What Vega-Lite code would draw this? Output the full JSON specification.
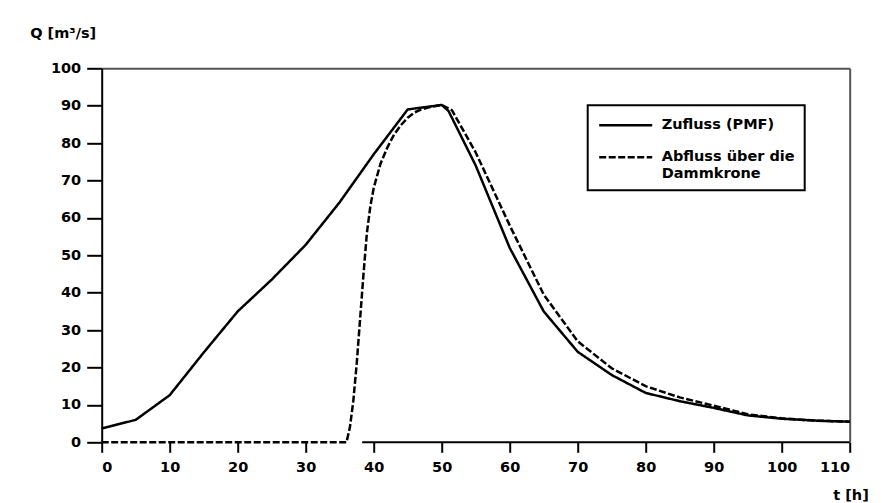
{
  "$schema": "https://vega.github.io/schema/vega-lite/v6.json",
  "width": 748,
  "height": 374,
  "autosize": "none",
  "padding": {"left": 101.7, "top": 68.3, "right": 32.3, "bottom": 60.7},
  "background": "white",
  "config": {
    "view": {"stroke": null},
    "font": "DejaVu Sans",
    "legend": {"strokeWidth": 2},
    "axis": {"labelFont": "DejaVu Sans", "labelFontWeight": "bold", "labelFontSize": 14.5, "labelColor": "black", "titleFont": "DejaVu Sans", "titleFontWeight": "bold", "titleFontSize": 14.5, "titleColor": "black", "grid": false}
  },
  "datasets": {
    "curves": [
      {"t": 0, "Q": 3.7, "s": "Zufluss (PMF)"},
      {"t": 5, "Q": 6.0, "s": "Zufluss (PMF)"},
      {"t": 10, "Q": 12.6, "s": "Zufluss (PMF)"},
      {"t": 15, "Q": 24, "s": "Zufluss (PMF)"},
      {"t": 20, "Q": 35, "s": "Zufluss (PMF)"},
      {"t": 25, "Q": 43.5, "s": "Zufluss (PMF)"},
      {"t": 30, "Q": 52.8, "s": "Zufluss (PMF)"},
      {"t": 35, "Q": 64.2, "s": "Zufluss (PMF)"},
      {"t": 40, "Q": 77, "s": "Zufluss (PMF)"},
      {"t": 45, "Q": 89, "s": "Zufluss (PMF)"},
      {"t": 50, "Q": 90.2, "s": "Zufluss (PMF)"},
      {"t": 51, "Q": 88.6, "s": "Zufluss (PMF)"},
      {"t": 55, "Q": 74, "s": "Zufluss (PMF)"},
      {"t": 60, "Q": 52, "s": "Zufluss (PMF)"},
      {"t": 65, "Q": 35, "s": "Zufluss (PMF)"},
      {"t": 70, "Q": 24.2, "s": "Zufluss (PMF)"},
      {"t": 75, "Q": 18, "s": "Zufluss (PMF)"},
      {"t": 80, "Q": 13.2, "s": "Zufluss (PMF)"},
      {"t": 85, "Q": 11, "s": "Zufluss (PMF)"},
      {"t": 90, "Q": 9.2, "s": "Zufluss (PMF)"},
      {"t": 95, "Q": 7.2, "s": "Zufluss (PMF)"},
      {"t": 100, "Q": 6.3, "s": "Zufluss (PMF)"},
      {"t": 105, "Q": 5.8, "s": "Zufluss (PMF)"},
      {"t": 110, "Q": 5.5, "s": "Zufluss (PMF)"},
      {"t": 0, "Q": 0, "s": "Abfluss über die Dammkrone"},
      {"t": 36, "Q": 0, "s": "Abfluss über die Dammkrone"},
      {"t": 36.5, "Q": 4, "s": "Abfluss über die Dammkrone"},
      {"t": 37, "Q": 11, "s": "Abfluss über die Dammkrone"},
      {"t": 37.5, "Q": 21, "s": "Abfluss über die Dammkrone"},
      {"t": 38, "Q": 33, "s": "Abfluss über die Dammkrone"},
      {"t": 38.5, "Q": 45, "s": "Abfluss über die Dammkrone"},
      {"t": 39, "Q": 56, "s": "Abfluss über die Dammkrone"},
      {"t": 39.5, "Q": 63, "s": "Abfluss über die Dammkrone"},
      {"t": 40, "Q": 68, "s": "Abfluss über die Dammkrone"},
      {"t": 41, "Q": 74.5, "s": "Abfluss über die Dammkrone"},
      {"t": 42, "Q": 78.8, "s": "Abfluss über die Dammkrone"},
      {"t": 43, "Q": 82.3, "s": "Abfluss über die Dammkrone"},
      {"t": 44, "Q": 84.8, "s": "Abfluss über die Dammkrone"},
      {"t": 45, "Q": 86.8, "s": "Abfluss über die Dammkrone"},
      {"t": 46, "Q": 88.2, "s": "Abfluss über die Dammkrone"},
      {"t": 47, "Q": 89, "s": "Abfluss über die Dammkrone"},
      {"t": 48, "Q": 89.5, "s": "Abfluss über die Dammkrone"},
      {"t": 50, "Q": 90.2, "s": "Abfluss über die Dammkrone"},
      {"t": 51.5, "Q": 88.8, "s": "Abfluss über die Dammkrone"},
      {"t": 55, "Q": 77.5, "s": "Abfluss über die Dammkrone"},
      {"t": 60, "Q": 58, "s": "Abfluss über die Dammkrone"},
      {"t": 65, "Q": 39.5, "s": "Abfluss über die Dammkrone"},
      {"t": 70, "Q": 27, "s": "Abfluss über die Dammkrone"},
      {"t": 75, "Q": 19.8, "s": "Abfluss über die Dammkrone"},
      {"t": 80, "Q": 15, "s": "Abfluss über die Dammkrone"},
      {"t": 85, "Q": 12, "s": "Abfluss über die Dammkrone"},
      {"t": 90, "Q": 9.8, "s": "Abfluss über die Dammkrone"},
      {"t": 95, "Q": 7.5, "s": "Abfluss über die Dammkrone"},
      {"t": 100, "Q": 6.4, "s": "Abfluss über die Dammkrone"},
      {"t": 105, "Q": 5.8, "s": "Abfluss über die Dammkrone"},
      {"t": 110, "Q": 5.5, "s": "Abfluss über die Dammkrone"}
    ],
    "baseline": [
      {"t": 38.3, "t2": 110, "Q": 0}
    ]
  },
  "resolve": {"axis": {"x": "independent", "y": "independent"}},
  "layer": [
    {
      "data": {"name": "baseline"},
      "mark": {"type": "rule", "color": "black", "strokeWidth": 2},
      "encoding": {
        "x": {"field": "t", "type": "quantitative", "scale": {"domain": [0, 110], "nice": false}, "axis": {"orient": "top", "domain": true, "domainColor": "#555", "domainWidth": 2, "ticks": false, "labels": false, "title": null}},
        "x2": {"field": "t2"},
        "y": {"field": "Q", "type": "quantitative", "scale": {"domain": [0, 100], "nice": false}, "axis": {"orient": "right", "domain": true, "domainColor": "#555", "domainWidth": 2, "ticks": false, "labels": false, "title": null}}
      }
    },
    {
      "data": {"name": "curves"},
      "mark": {"type": "line", "color": "black", "strokeWidth": 2.5},
      "encoding": {
        "x": {"field": "t", "type": "quantitative", "axis": {"orient": "bottom", "domain": false, "values": [0,10,20,30,40,50,60,70,80,90,100,110], "tickSize": 10, "tickWidth": 2, "tickColor": "black", "labelPadding": 8, "title": "t  [h]", "titleAngle": 0, "titleX": 731, "titleY": 46, "titleAlign": "left", "titleBaseline": "top"}},
        "y": {"field": "Q", "type": "quantitative", "axis": {"orient": "left", "domain": true, "domainColor": "black", "domainWidth": 2, "values": [0,10,20,30,40,50,60,70,80,90,100], "tickSize": 15, "tickWidth": 2, "tickColor": "black", "labelPadding": 6, "title": "Q  [m³/s]", "titleAngle": 0, "titleX": -72, "titleY": -31, "titleAlign": "left", "titleBaseline": "alphabetic"}},
        "strokeDash": {
          "field": "s", "type": "nominal",
          "scale": {"domain": ["Zufluss (PMF)", "Abfluss über die Dammkrone"], "range": [[1, 0], [7, 2.5]]},
          "legend": {
            "orient": "none", "legendX": 486, "legendY": 37, "title": null,
            "strokeColor": "black", "fillColor": "white", "padding": 10,
            "symbolType": "stroke", "symbolSize": 2809, "symbolStrokeWidth": 2.5, "symbolStrokeColor": "black",
            "clipHeight": 20, "rowPadding": 12,
            "labelFont": "DejaVu Sans", "labelFontWeight": "bold", "labelFontSize": 14.5, "labelColor": "black", "labelOffset": 8, "labelLimit": 400,
            "labelExpr": "datum.label == 'Abfluss über die Dammkrone' ? ['Abfluss über die', 'Dammkrone'] : datum.label"
          }
        }
      }
    }
  ]
}
